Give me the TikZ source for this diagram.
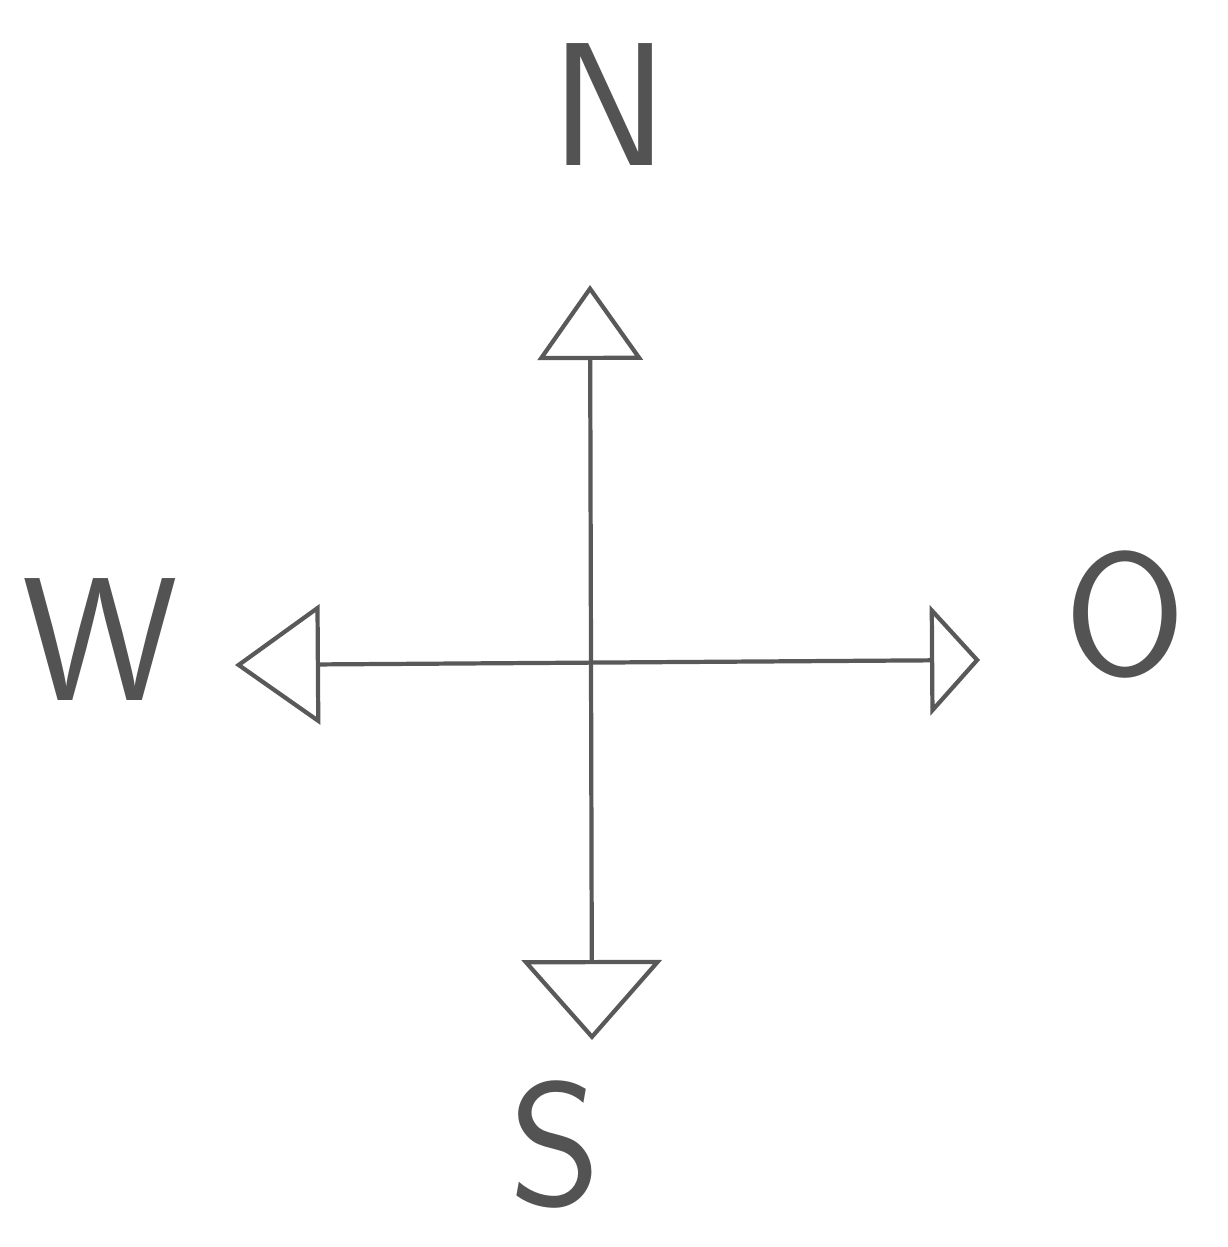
\documentclass[tikz,border=0pt]{standalone}
\usetikzlibrary{arrows.meta}
\begin{document}
\begin{tikzpicture}[
  pencil/.style={draw=gray!70!black, line width=1.2pt},
  dirlabel/.style={font=\fontsize{50}{50}\selectfont\sffamily, text=gray!65!black},
]
\useasboundingbox (0,0) rectangle (12.28,-12.47);

% centre and arrow tips
\coordinate (c) at (5.98,-6.65);
\coordinate (ntip) at (5.90,-2.85);
\coordinate (stip) at (5.92,-10.40);
\coordinate (wtip) at (2.35,-6.65);
\coordinate (otip) at (9.80,-6.60);

% labels
\node[dirlabel] (n) at (6.10,-1.05) {N};
\node[dirlabel] (s) at (5.55,-11.45) {S};
\node[dirlabel] (w) at (1.00,-6.40) {W};
\node[dirlabel] (o) at (11.25,-6.15) {O};

% axes
\draw[pencil, {Triangle[open, length=0.8cm, width=1.4cm]}-{Triangle[open, length=0.75cm, width=1.05cm]}] (stip) -- (ntip);
\draw[pencil, {Triangle[open, length=0.85cm, width=1.2cm]}-{Triangle[open, length=0.5cm, width=1.1cm]}] (wtip) -- (otip);

\end{tikzpicture}
\end{document}
